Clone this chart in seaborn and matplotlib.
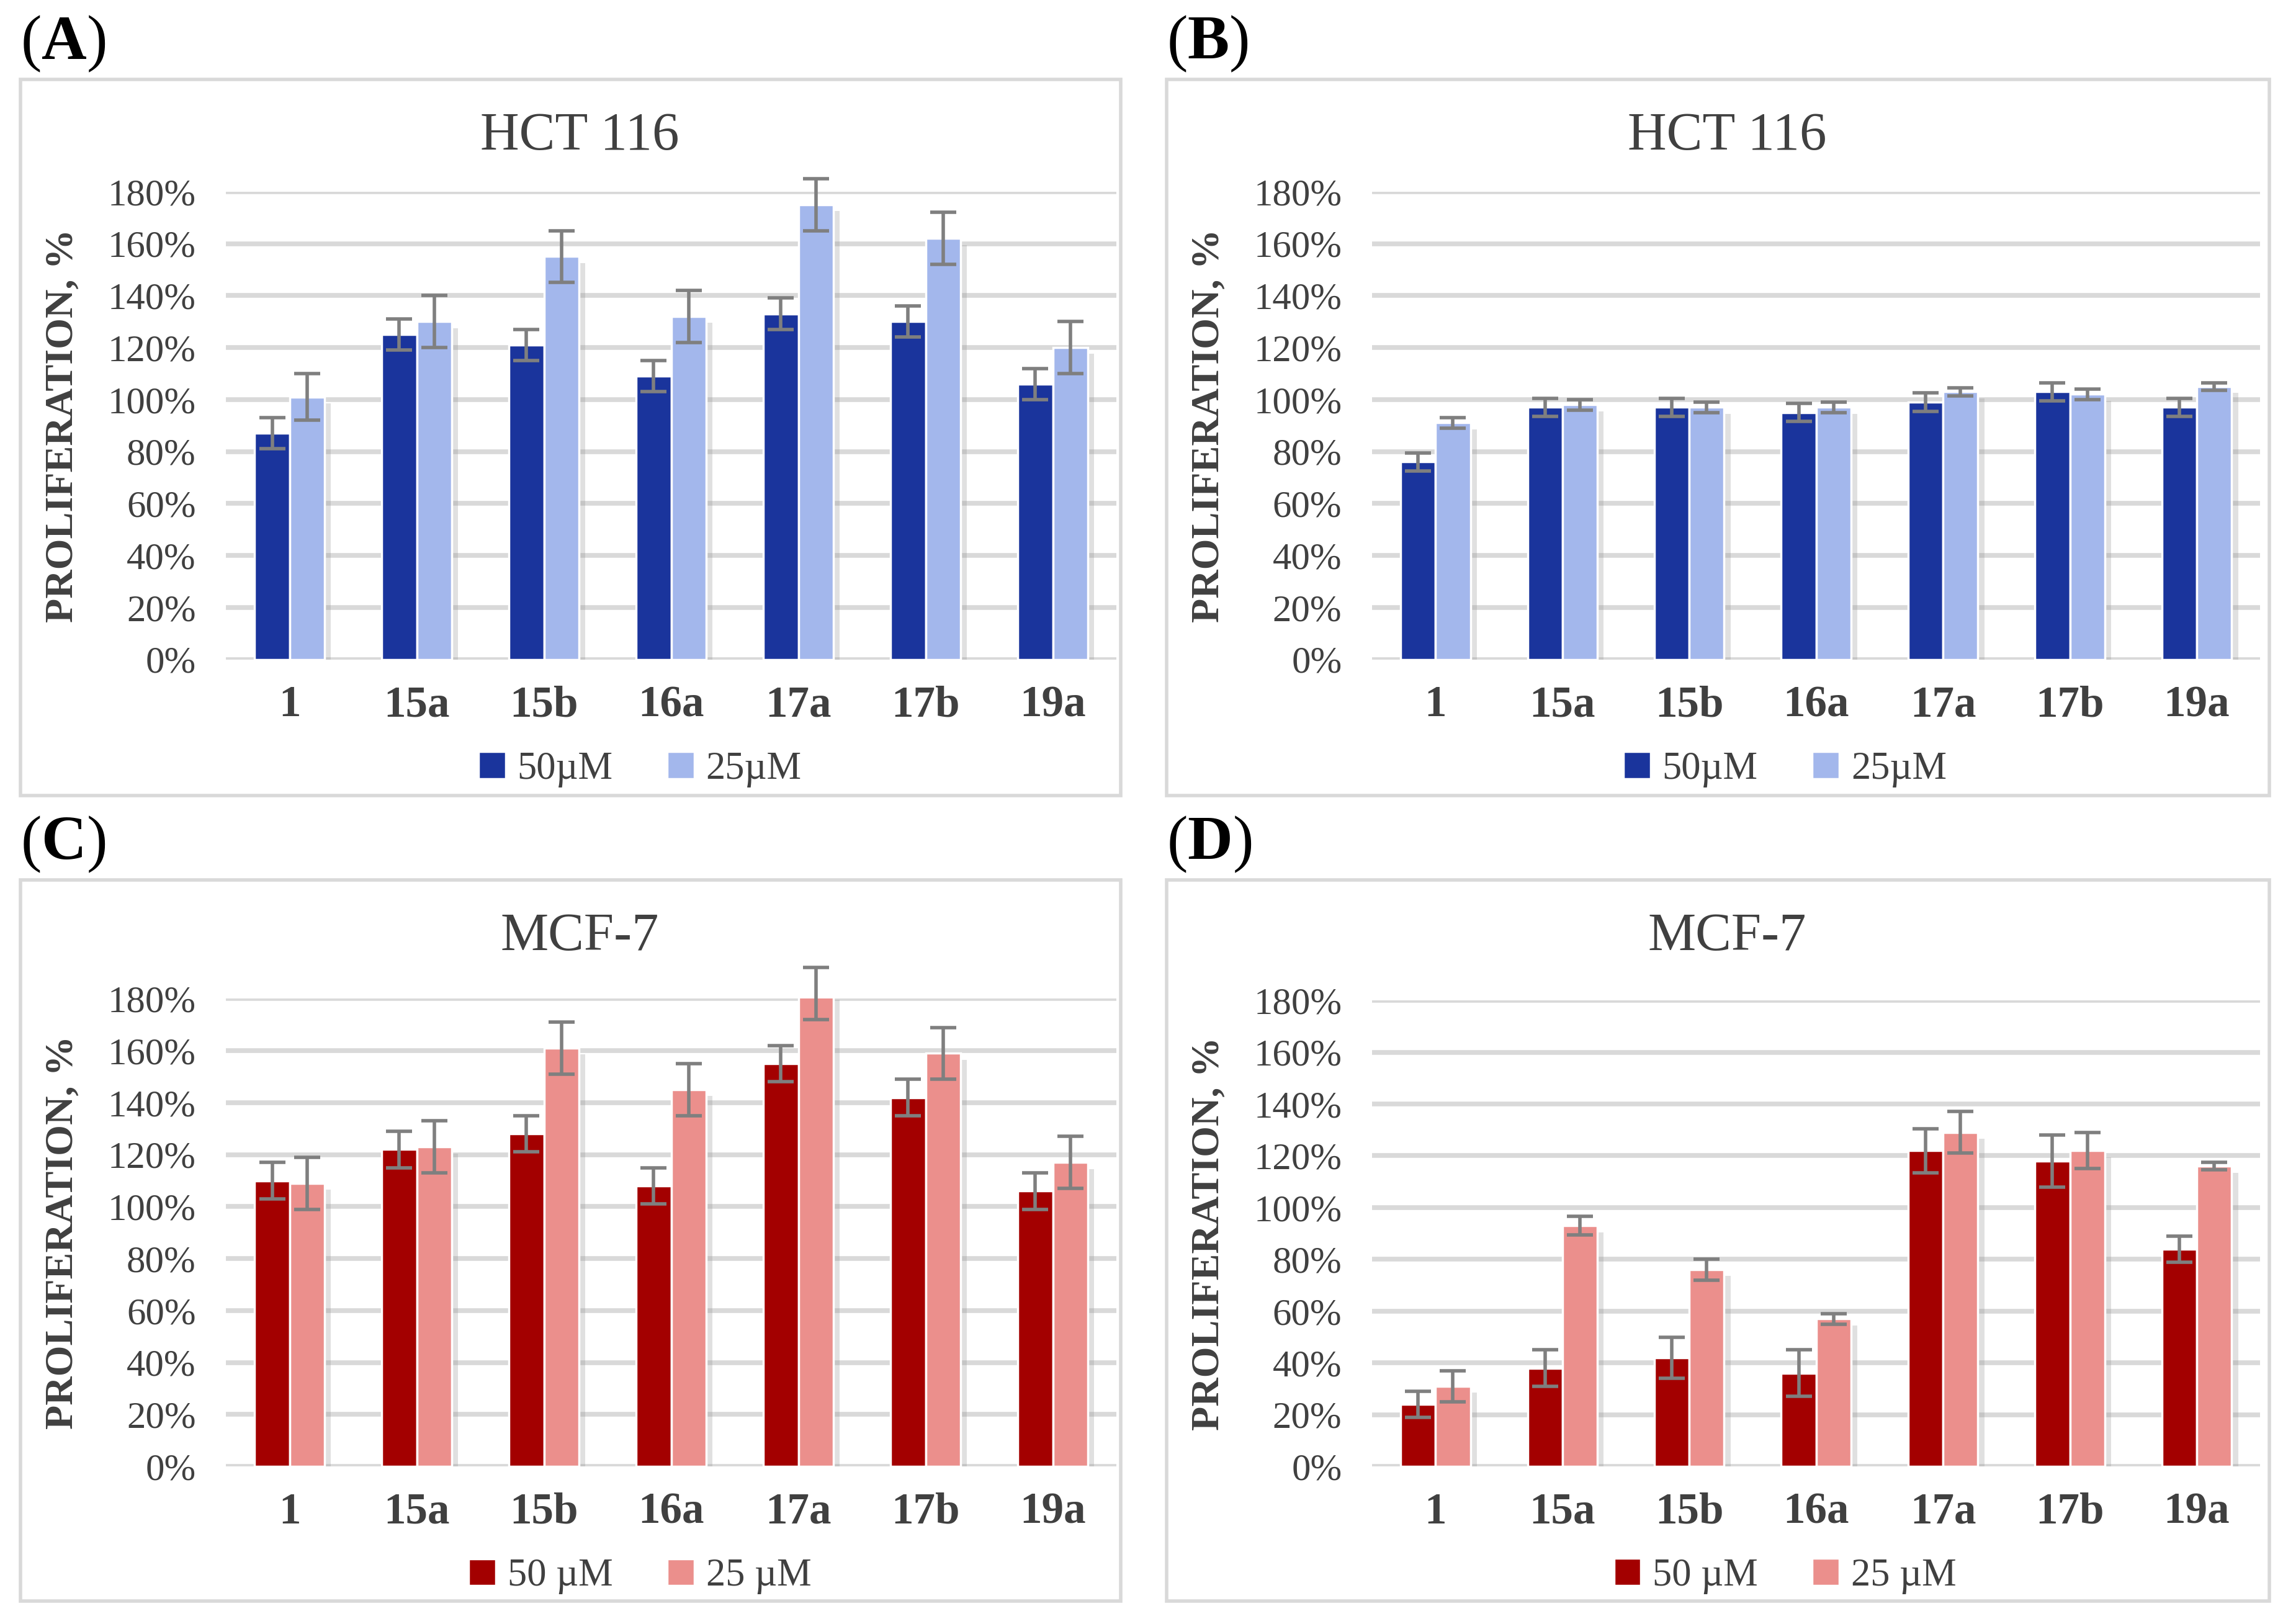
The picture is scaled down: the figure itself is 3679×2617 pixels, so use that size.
import matplotlib
matplotlib.use("Agg")
import matplotlib.pyplot as plt
import matplotlib.patheffects as pe
from matplotlib.patches import Rectangle
import seaborn as sns
import pandas as pd

compounds = ['1', '15a', '15b', '16a', '17a', '17b', '19a']

# HCT 116 (A)
a_50 = [87, 125, 121, 109, 133, 130, 106]
a_50_err = [6, 6, 6, 6, 6, 6, 6]
a_25 = [101, 130, 155, 132, 175, 162, 120]
a_25_err = [9, 10, 10, 10, 10, 10, 10]

# HCT 116 (B)
b_50 = [76, 97, 97, 95, 99, 103, 97]
b_50_err = [3.5, 3.5, 3.5, 3.5, 3.5, 3.5, 3.5]
b_25 = [91, 98, 97, 97, 103, 102, 105]
b_25_err = [2, 2, 2, 2, 1.5, 2, 1.5]

# MCF-7 (C)
c_50 = [110, 122, 128, 108, 155, 142, 106]
c_50_err = [7, 7, 7, 7, 7, 7, 7]
c_25 = [109, 123, 161, 145, 182, 159, 117]
c_25_err = [10, 10, 10, 10, 10, 10, 10]

# MCF-7 (D)
d_50 = [24, 38, 42, 36, 122, 118, 84]
d_50_err = [5, 7, 8, 9, 8.5, 10, 5]
d_25 = [31, 93, 76, 57, 129, 122, 116]
d_25_err = [6, 3.5, 4, 2, 8, 7, 1.5]

blues = ['#1A349C', '#A3B7EC']
reds = ['#A30000', '#EB8F8C']
TXT = '#404040'
GRID = '#D9D9D9'

sns.set_theme(style='white')
plt.rcParams['font.family'] = ['Liberation Serif', 'DejaVu Serif']
plt.rcParams['mathtext.fontset'] = 'custom'
plt.rcParams['mathtext.rm'] = 'Liberation Serif'
plt.rcParams['mathtext.bf'] = 'Liberation Serif:bold'

fig = plt.figure(figsize=(3679 / 250, 2617 / 250), dpi=250)

panels = [
    ('A', 'HCT 116', a_50, a_50_err, a_25, a_25_err, blues, ['50µM', '25µM'],
     (0.009, 0.510, 0.482, 0.441), (0.099, 0.594, 0.390, 0.288)),
    ('B', 'HCT 116', b_50, b_50_err, b_25, b_25_err, blues, ['50µM', '25µM'],
     (0.511, 0.510, 0.483, 0.441), (0.601, 0.594, 0.389, 0.288)),
    ('C', 'MCF-7', c_50, c_50_err, c_25, c_25_err, reds, ['50 µM', '25 µM'],
     (0.009, 0.014, 0.482, 0.444), (0.099, 0.097, 0.390, 0.288)),
    ('D', 'MCF-7', d_50, d_50_err, d_25, d_25_err, reds, ['50 µM', '25 µM'],
     (0.511, 0.014, 0.483, 0.444), (0.601, 0.097, 0.389, 0.287)),
]

for letter, title, v50, e50, v25, e25, pal, labels, box, axpos in panels:
    # chart area border
    fig.patches.append(Rectangle((box[0], box[1]), box[2], box[3], transform=fig.transFigure,
                                 fill=False, edgecolor=GRID, linewidth=1.6, zorder=0))
    fig.text(box[0], box[1] + box[3] + 0.022, r'($\mathbf{' + letter + '}$)', fontsize=29,
             color='black', ha='left', va='center')
    fig.text(box[0] + box[2] / 2 + 0.004, box[1] + box[3] - 0.035, title, fontsize=25,
             color=TXT, ha='center', va='center')

    ax = fig.add_axes(axpos)
    df = pd.DataFrame({
        'Compound': compounds * 2,
        'Value': v50 + v25,
        'Conc': [labels[0]] * len(compounds) + [labels[1]] * len(compounds),
    })
    sns.barplot(data=df, x='Compound', y='Value', hue='Conc', palette=pal, width=0.55,
                errorbar=None, saturation=1, ax=ax, zorder=3)
    for cont, err in zip(ax.containers, [e50, e25]):
        xs = [p.get_x() + p.get_width() / 2 for p in cont.patches]
        hs = [p.get_height() for p in cont.patches]
        for p in cont.patches:
            p.set_path_effects([pe.SimplePatchShadow(offset=(3, -3), shadow_rgbFace='#999999', alpha=0.3),
                                pe.Normal()])
        ax.errorbar(xs, hs, yerr=err, fmt='none', ecolor='#7F7F7F', elinewidth=1.6,
                    capsize=6, capthick=1.6, zorder=4, clip_on=False)

    ax.set_ylim(0, 180)
    ax.set_xlim(-0.5, len(compounds) - 0.5)
    ax.set_yticks(range(0, 181, 20))
    ax.set_yticklabels([f'{t}%' for t in range(0, 181, 20)])
    ax.yaxis.grid(True, color=GRID, linewidth=2.2, zorder=0)
    ax.set_axisbelow(True)
    for s in ax.spines.values():
        s.set_visible(False)
    ax.tick_params(axis='y', length=0, pad=14, labelsize=17.5, labelcolor=TXT)
    ax.tick_params(axis='x', length=0, pad=12, labelsize=20.5, labelcolor=TXT)
    for t in ax.get_xticklabels():
        t.set_fontweight('bold')
    ax.set_xlabel('')
    ax.set_ylabel('PROLIFERATION, %', fontsize=18.5, fontweight='bold', color=TXT)
    ax.yaxis.set_label_coords(-0.163, 0.5)

    handles, labs = ax.get_legend_handles_labels()
    ax.legend(handles, labs, loc='center', bbox_to_anchor=(0.465, -0.235), ncol=2, frameon=False,
              fontsize=18, handlelength=0.7, handleheight=0.7, handletextpad=0.3,
              columnspacing=1.4, labelcolor=TXT)

fig.savefig('out.png', dpi=250, facecolor='white')
